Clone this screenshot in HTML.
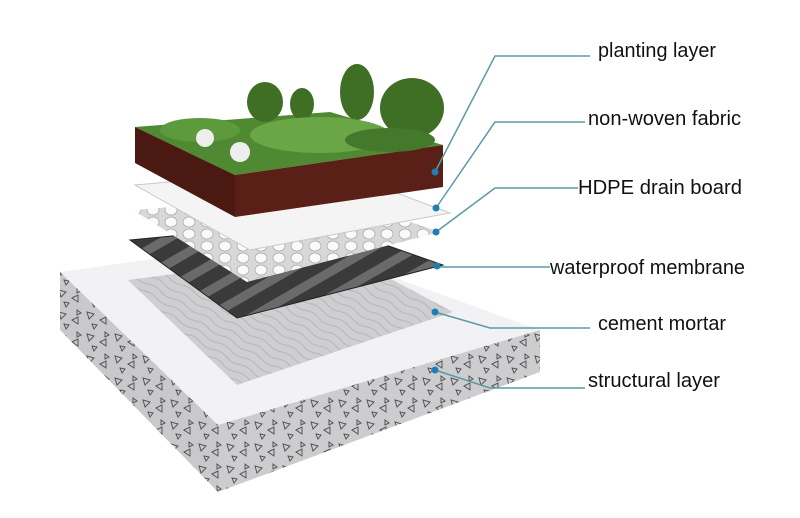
<!DOCTYPE html>
<html><head><meta charset="utf-8"><style>
html,body{margin:0;padding:0;background:#fff;width:800px;height:518px;overflow:hidden}
text{font-family:"Liberation Sans",sans-serif;font-size:20px;fill:#111}
</style></head><body>
<svg width="800" height="518" viewBox="0 0 800 518" xmlns="http://www.w3.org/2000/svg">
<defs>
<pattern id="tri" width="28" height="22" patternUnits="userSpaceOnUse">
<path d="M3 4 l7 2 l-5 5z M16 12 l6 -3 l0 7z M8 16 l5 1 l-3 4z M21 2 l4 3 l-4 2z" fill="none" stroke="#555" stroke-width="1"/>
</pattern>
<pattern id="mem" width="22" height="22" patternUnits="userSpaceOnUse" patternTransform="rotate(60)">
<rect width="22" height="22" fill="#3a3a3a"/><rect width="9" height="22" fill="#6a6a6a"/>
</pattern>
<pattern id="dimp" width="18" height="12" patternUnits="userSpaceOnUse">
<rect width="18" height="12" fill="#d8d8d8"/><ellipse cx="9" cy="6" rx="6" ry="5" fill="#fafafa" stroke="#aaa" stroke-width="0.8"/>
</pattern>
<pattern id="wave" width="30" height="8" patternUnits="userSpaceOnUse" patternTransform="rotate(30)">
<rect width="30" height="8" fill="#cfcfd2"/><path d="M0 4 q7 -3 15 0 t15 0" stroke="#b6b6ba" fill="none"/>
</pattern>
</defs>
<polygon points="60,272 290,240 540,330 218,425" fill="#f2f2f4"/>
<polygon points="60,272 218,425 218,492 60,330" fill="#c9c9cc"/>
<polygon points="60,272 218,425 218,492 60,330" fill="url(#tri)"/>
<polygon points="218,425 540,330 540,372 218,492" fill="#cdcdd0"/>
<polygon points="218,425 540,330 540,372 218,492" fill="url(#tri)"/>
<polygon points="128,280 340,252 453,312 237,385" fill="url(#wave)"/>
<polygon points="130,240 320,222 443,265 237,318" fill="url(#mem)" stroke="#222"/>
<polygon points="133,210 330,195 440,232 247,282" fill="url(#dimp)"/>
<polygon points="135,185 330,168 450,213 250,250" fill="#f4f4f4" stroke="#c8c8c8"/>
<polygon points="135,127 330,112 443,145 235,175" fill="#4f8a32"/>
<polygon points="135,127 235,175 235,217 135,163" fill="#4a1a12"/>
<polygon points="235,175 443,145 443,187 235,217" fill="#5a1f16"/>
<g fill="#3e6f25">
<ellipse cx="265" cy="102" rx="18" ry="20"/><ellipse cx="302" cy="104" rx="12" ry="16"/>
<ellipse cx="357" cy="92" rx="17" ry="28"/><ellipse cx="412" cy="108" rx="32" ry="30"/>
<ellipse cx="200" cy="130" rx="40" ry="12" fill="#5d9a3c"/><ellipse cx="320" cy="135" rx="70" ry="18" fill="#6aa546"/>
<ellipse cx="390" cy="140" rx="45" ry="12" fill="#44782a"/>
</g>
<circle cx="205" cy="138" r="9" fill="#eee"/><circle cx="240" cy="152" r="10" fill="#eee"/>
<g stroke="#5a9aa6" stroke-width="1.5" fill="none">
<polyline points="435,172 495,56 590,56"/>
<polyline points="436,208 495,122 585,122"/>
<polyline points="436,232 495,188 578,188"/>
<polyline points="437,267 550,267"/>
<polyline points="435,312 490,328 590,328"/>
<polyline points="435,370 490,388 585,388"/>
</g>
<g fill="#1e7fb8">
<circle cx="435" cy="172" r="3.5"/><circle cx="436" cy="208" r="3.5"/><circle cx="436" cy="232" r="3.5"/>
<circle cx="437" cy="266" r="3.5"/><circle cx="435" cy="312" r="3.5"/><circle cx="435" cy="370" r="3.5"/>
</g>
<text x="598" y="57" textLength="118" lengthAdjust="spacingAndGlyphs">planting layer</text>
<text x="588" y="125" textLength="153" lengthAdjust="spacingAndGlyphs">non-woven fabric</text>
<text x="578" y="194" textLength="164" lengthAdjust="spacingAndGlyphs">HDPE drain board</text>
<text x="550" y="274" textLength="195" lengthAdjust="spacingAndGlyphs">waterproof membrane</text>
<text x="598" y="330" textLength="128" lengthAdjust="spacingAndGlyphs">cement mortar</text>
<text x="588" y="387" textLength="132" lengthAdjust="spacingAndGlyphs">structural layer</text>
</svg>
</body></html>
